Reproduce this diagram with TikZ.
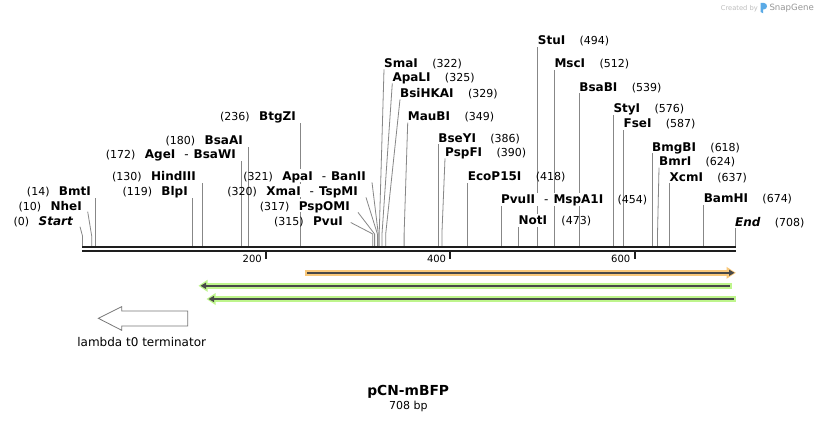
\documentclass[tikz,border=0pt]{standalone}
\usepackage{fontspec}
\setmainfont{DejaVu Sans}
\definecolor{cutgray}{RGB}{135,135,135}
\definecolor{barblack}{RGB}{30,30,30}
\definecolor{featorange}{RGB}{249,200,122}
\definecolor{featgreen}{RGB}{190,245,140}
\definecolor{featdark}{RGB}{72,72,72}
\definecolor{termgray}{RGB}{120,120,120}
\definecolor{logoblue}{RGB}{90,170,230}
\definecolor{credlight}{RGB}{190,190,190}
\definecolor{creddark}{RGB}{150,150,150}
\pgfdeclarelayer{bg}
\pgfdeclarelayer{lines}
\pgfsetlayers{bg,lines,main}
\begin{document}
\begin{tikzpicture}[x=1pt,y=-1pt,
  enz/.style={font=\bfseries\fontsize{12}{12}\selectfont, fill=white, inner xsep=1pt, inner ysep=2pt, text height=8.8pt, text depth=0pt},
  num/.style={font=\fontsize{11}{11}\selectfont, inner sep=0pt},
  cut/.style={draw=cutgray, line width=0.8pt},
  barline/.style={draw=barblack, line width=2.4pt},
  ticklab/.style={font=\fontsize{10}{10}\selectfont, anchor=east, inner sep=0pt},
  hy/.style={}]
\begin{pgfonlayer}{bg}
\fill[white] (0,0) rectangle (818,422);
\end{pgfonlayer}
\useasboundingbox (0,0) rectangle (818,422);

% credit
\node[font=\fontsize{6.7}{7}\selectfont, text=credlight, anchor=base west, inner sep=0pt] (cred) at (720.7,10.5) {Created by};
\fill[logoblue] (760.5,3) -- (764,3) to[out=0,in=90] (767,6.2) to[out=-90,in=0] (764,9.4) -- (763.2,9.4) -- (763.2,13.3) -- (760.5,12) -- cycle;
\node[font=\fontsize{8.6}{9}\selectfont, text=creddark, anchor=base west, inner sep=0pt] (snap) at (769.3,11) {SnapGene};

% bar coordinates
\coordinate (p0) at (82.5,246);
\coordinate (p10) at (91.7,246);
\coordinate (p14) at (95.4,246);
\coordinate (p119) at (192.2,246);
\coordinate (p130) at (202.3,246);
\coordinate (p172) at (241.0,246);
\coordinate (p180) at (248.4,246);
\coordinate (p236) at (300.0,246);
\coordinate (p315) at (372.8,246);
\coordinate (p317) at (374.6,246);
\coordinate (p320) at (377.4,246);
\coordinate (p321) at (378.3,246);
\coordinate (p322) at (379.2,246);
\coordinate (p325) at (382.0,246);
\coordinate (p329) at (385.7,246);
\coordinate (p349) at (404.1,246);
\coordinate (p386) at (438.2,246);
\coordinate (p390) at (441.9,246);
\coordinate (p418) at (467.7,246);
\coordinate (p454) at (500.9,246);
\coordinate (p473) at (518.4,246);
\coordinate (p494) at (537.7,246);
\coordinate (p512) at (554.3,246);
\coordinate (p539) at (579.2,246);
\coordinate (p576) at (613.3,246);
\coordinate (p587) at (623.4,246);
\coordinate (p618) at (652.0,246);
\coordinate (p624) at (657.5,246);
\coordinate (p637) at (669.5,246);
\coordinate (p674) at (703.6,246);
\coordinate (p708) at (734.9,246);

% ---- right-hand labels (name, then number)
\node[enz, anchor=south west] (nSmaI) at (383,69.3) {SmaI};
\node[num, anchor=base west] (cSmaI) at ([xshift=13pt]nSmaI.base east) {(322)};
\node[enz, anchor=south west] (nApaLI) at (391.3,83.3) {ApaLI};
\node[num, anchor=base west] (cApaLI) at ([xshift=13pt]nApaLI.base east) {(325)};
\node[enz, anchor=south west] (nBsiHKAI) at (399,99.3) {BsiHKAI};
\node[num, anchor=base west] (cBsiHKAI) at ([xshift=13pt]nBsiHKAI.base east) {(329)};
\node[enz, anchor=south west] (nMauBI) at (406.7,122.7) {MauBI};
\node[num, anchor=base west] (cMauBI) at ([xshift=13pt]nMauBI.base east) {(349)};
\node[enz, anchor=south west] (nBseYI) at (437.2,144.3) {BseYI};
\node[num, anchor=base west] (cBseYI) at ([xshift=13pt]nBseYI.base east) {(386)};
\node[enz, anchor=south west] (nPspFI) at (444,158.3) {PspFI};
\node[num, anchor=base west] (cPspFI) at ([xshift=13pt]nPspFI.base east) {(390)};
\node[enz, anchor=south west] (nEcoP15I) at (466.7,183) {EcoP15I};
\node[num, anchor=base west] (cEcoP15I) at ([xshift=13pt]nEcoP15I.base east) {(418)};
\node[enz, anchor=south west] (nPvuII) at (499.9,205.7) {PvuII\hspace{9pt}{\mdseries -}\hspace{5pt}MspA1I};
\node[num, anchor=base west] (cPvuII) at ([xshift=13pt]nPvuII.base east) {(454)};
\node[enz, anchor=south west] (nNotI) at (517.4,226.7) {NotI};
\node[num, anchor=base west] (cNotI) at ([xshift=13pt]nNotI.base east) {(473)};
\node[enz, anchor=south west] (nStuI) at (536.7,46.7) {StuI};
\node[num, anchor=base west] (cStuI) at ([xshift=13pt]nStuI.base east) {(494)};
\node[enz, anchor=south west] (nMscI) at (553.3,70) {MscI};
\node[num, anchor=base west] (cMscI) at ([xshift=13pt]nMscI.base east) {(512)};
\node[enz, anchor=south west] (nBsaBI) at (578.2,93.3) {BsaBI};
\node[num, anchor=base west] (cBsaBI) at ([xshift=13pt]nBsaBI.base east) {(539)};
\node[enz, anchor=south west] (nStyI) at (612.3,115) {StyI};
\node[num, anchor=base west] (cStyI) at ([xshift=13pt]nStyI.base east) {(576)};
\node[enz, anchor=south west] (nFseI) at (622.4,130) {FseI};
\node[num, anchor=base west] (cFseI) at ([xshift=13pt]nFseI.base east) {(587)};
\node[enz, anchor=south west] (nBmgBI) at (651,153.3) {BmgBI};
\node[num, anchor=base west] (cBmgBI) at ([xshift=13pt]nBmgBI.base east) {(618)};
\node[enz, anchor=south west] (nBmrI) at (658,167.7) {BmrI};
\node[num, anchor=base west] (cBmrI) at ([xshift=13pt]nBmrI.base east) {(624)};
\node[enz, anchor=south west] (nXcmI) at (668.5,183.3) {XcmI};
\node[num, anchor=base west] (cXcmI) at ([xshift=13pt]nXcmI.base east) {(637)};
\node[enz, anchor=south west] (nBamHI) at (702.6,205) {BamHI};
\node[num, anchor=base west] (cBamHI) at ([xshift=13pt]nBamHI.base east) {(674)};
\node[enz, anchor=south west] (nEnd) at (733.9,228.3) {\itshape End};
\node[num, anchor=base west] (cEnd) at ([xshift=13pt]nEnd.base east) {(708)};

% ---- left-hand labels (number, then name)
\node[enz, anchor=south east] (nStart) at (74,227.4) {\itshape Start};
\node[num, anchor=base east] (cStart) at ([xshift=-8pt]nStart.base west) {(0)};
\node[enz, anchor=south east] (nNheI) at (83,212.4) {NheI};
\node[num, anchor=base east] (cNheI) at ([xshift=-8pt]nNheI.base west) {(10)};
\node[enz, anchor=south east] (nBmtI) at (92,197.7) {BmtI};
\node[num, anchor=base east] (cBmtI) at ([xshift=-8pt]nBmtI.base west) {(14)};
\node[enz, anchor=south east] (nBlpI) at (189,197.7) {BlpI};
\node[num, anchor=base east] (cBlpI) at ([xshift=-8pt]nBlpI.base west) {(119)};
\node[enz, anchor=south east] (nHindIII) at (197,182.7) {HindIII};
\node[num, anchor=base east] (cHindIII) at ([xshift=-8pt]nHindIII.base west) {(130)};
\node[enz, anchor=south east] (nAgeI) at (237,161) {AgeI\hspace{9pt}{\mdseries -}\hspace{5pt}BsaWI};
\node[num, anchor=base east] (cAgeI) at ([xshift=-8pt]nAgeI.base west) {(172)};
\node[enz, anchor=south east] (nBsaAI) at (244,146.7) {BsaAI};
\node[num, anchor=base east] (cBsaAI) at ([xshift=-8pt]nBsaAI.base west) {(180)};
\node[enz, anchor=south east] (nBtgZI) at (297,122.7) {BtgZI};
\node[num, anchor=base east] (cBtgZI) at ([xshift=-8pt]nBtgZI.base west) {(236)};
\node[enz, anchor=south east] (nApaI) at (367,182.4) {ApaI\hspace{9pt}{\mdseries -}\hspace{5pt}BanII};
\node[num, anchor=base east] (cApaI) at ([xshift=-8pt]nApaI.base west) {(321)};
\node[enz, anchor=south east] (nXmaI) at (359,197.4) {XmaI\hspace{9pt}{\mdseries -}\hspace{5pt}TspMI};
\node[num, anchor=base east] (cXmaI) at ([xshift=-8pt]nXmaI.base west) {(320)};
\node[enz, anchor=south east] (nPspOMI) at (351,212.4) {PspOMI};
\node[num, anchor=base east] (cPspOMI) at ([xshift=-8pt]nPspOMI.base west) {(317)};
\node[enz, anchor=south east] (nPvuI) at (344,227.4) {PvuI};
\node[num, anchor=base east] (cPvuI) at ([xshift=-8pt]nPvuI.base west) {(315)};

% ---- cut-site connectors (behind labels)
\begin{pgfonlayer}{lines}
\draw[cut] (p0) -- ++(0,-10) -- ([xshift=6pt,yshift=0.7pt]nStart.south east);
\draw[cut] (p10) -- ++(0,-10) -- ([xshift=4.7pt,yshift=0.7pt]nNheI.south east);
\draw[cut] (p14) -- (p14 |- nBmtI.south);
\draw[cut] (p119) -- (p119 |- nBlpI.south);
\draw[cut] (p130) -- (p130 |- nHindIII.south);
\draw[cut] (p172) -- (p172 |- nAgeI.south);
\draw[cut] (p180) -- (p180 |- nBsaAI.south);
\draw[cut] (p236) -- (p236 |- nBtgZI.south);
\draw[cut] (p315) -- ++(0,-12) -- ([xshift=6.7pt,yshift=4.9pt]nPvuI.south east);
\draw[cut] (p317) -- ++(0,-12) -- ([xshift=7pt]nPspOMI.south east);
\draw[cut] (p320) -- ++(0,-12) -- ([xshift=7pt]nXmaI.south east);
\draw[cut] (p321) -- ++(0,-12) -- ([xshift=5pt]nApaI.south east);
\draw[cut] (p322) -- ++(0,-12) -- ([xshift=1pt]nSmaI.south west);
\draw[cut] (p325) -- ++(0,-12) -- ([xshift=1pt]nApaLI.south west);
\draw[cut] (p329) -- ++(0,-12) -- ([xshift=1pt]nBsiHKAI.south west);
\draw[cut] (p349) -- ++(0,-12) -- ([xshift=1pt]nMauBI.south west);
\draw[cut] (p386) -- (p386 |- nBseYI.south);
\draw[cut] (p390) -- ++(0,-12) -- ([xshift=1pt]nPspFI.south west);
\draw[cut] (p418) -- (p418 |- nEcoP15I.south);
\draw[cut] (p454) -- (p454 |- nPvuII.south);
\draw[cut] (p473) -- (p473 |- nNotI.south);
\draw[cut] (p494) -- (p494 |- nStuI.south);
\draw[cut] (p512) -- (p512 |- nMscI.south);
\draw[cut] (p539) -- (p539 |- nBsaBI.south);
\draw[cut] (p576) -- (p576 |- nStyI.south);
\draw[cut] (p587) -- (p587 |- nFseI.south);
\draw[cut] (p618) -- (p618 |- nBmgBI.south);
\draw[cut] (p624) -- ++(0,-12) -- ([xshift=1pt]nBmrI.south west);
\draw[cut] (p637) -- (p637 |- nXcmI.south);
\draw[cut] (p674) -- (p674 |- nBamHI.south);
\draw[cut] (p708) -- (p708 |- nEnd.south);
\end{pgfonlayer}

% ---- sequence bar and ruler
\draw[barline] (82,247.2) -- (735.6,247.2);
\draw[barline] (82,251.2) -- (735.6,251.2);
\fill[barblack] (265,252.4) rectangle (267,259.4);
\fill[barblack] (449.3,252.4) rectangle (451.3,259.4);
\fill[barblack] (633.5,252.4) rectangle (635.5,259.4);
\node[ticklab] (t200) at (262,258.8) {200};
\node[ticklab] (t400) at (446.3,258.8) {400};
\node[ticklab] (t600) at (630.5,258.8) {600};

% ---- features
\fill[featorange] (305,270) rectangle (727.5,275.6);
\fill[featorange] (726.5,266.8) -- (735.8,272.8) -- (726.5,278.8) -- cycle;
\draw[featdark, line width=1.8pt] (307,272.8) -- (730,272.8);
\fill[featdark] (729,269.6) -- (734.5,272.8) -- (729,276) -- cycle;

\fill[featgreen] (207,283) rectangle (731.7,288.6);
\fill[featgreen] (207.5,279.8) -- (198.5,285.8) -- (207.5,291.8) -- cycle;
\draw[featdark, line width=1.8pt] (203,285.8) -- (730,285.8);
\fill[featdark] (206,282.6) -- (200.5,285.8) -- (206,289) -- cycle;

\fill[featgreen] (215,296.2) rectangle (735.7,301.8);
\fill[featgreen] (215.5,293) -- (206.5,299) -- (215.5,305) -- cycle;
\draw[featdark, line width=1.8pt] (211,299) -- (734,299);
\fill[featdark] (214,295.8) -- (208.5,299) -- (214,302.2) -- cycle;

% terminator
\draw[termgray, line width=0.8pt, fill=white] (98.3,318.3) -- (121.7,306.7) -- (121.7,311) -- (187.7,311) -- (187.7,326) -- (121.7,326) -- (121.7,330.3) -- cycle;
\node[font=\fontsize{12}{12}\selectfont, inner sep=0pt] (term) at (141.7,341.7) {lambda t0 terminator};

% title
\node[font=\bfseries\fontsize{13.8}{14}\selectfont, anchor=base, inner sep=0pt] (title) at (408.2,395.6) {pCN-mBFP};
\node[font=\fontsize{11}{11}\selectfont, anchor=base, inner sep=0pt] (len) at (408.3,409) {708 bp};
\end{tikzpicture}
\end{document}
